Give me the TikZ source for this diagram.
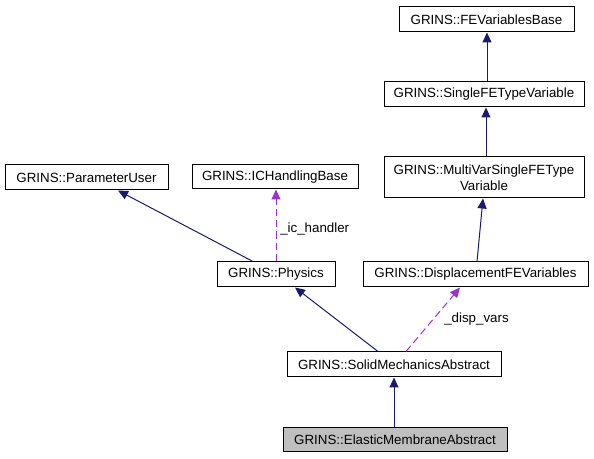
\documentclass[tikz,border=0pt]{standalone}
\usepackage{fontspec}
\setmainfont{Liberation Sans}
\usetikzlibrary{arrows.meta,calc}
\definecolor{navy}{HTML}{191970}
\definecolor{orchid}{HTML}{9A32CD}
\definecolor{boxgray}{HTML}{BFBFBF}
\begin{document}
\begin{tikzpicture}[x=0.75pt,y=-0.75pt,
  box/.style={draw=black,line width=0.75pt,fill=white,inner sep=0pt,
    font=\fontsize{10}{12}\selectfont,align=center},
  inh/.style={draw=navy,line width=0.75pt,-{Triangle[length=7.5pt,width=6.75pt]}},
  use/.style={draw=orchid,line width=0.75pt,dash pattern=on 5.5pt off 3pt,
    -{Triangle[length=7.5pt,width=6.75pt]}},
  lbl/.style={font=\fontsize{10}{12}\selectfont,inner sep=0pt,anchor=west}]
\useasboundingbox (0,0) rectangle (594,459);
\node[box,minimum width=131.25pt,minimum height=18.75pt] (fevb) at (486.5,19.5) {GRINS::FEVariablesBase};
\node[box,minimum width=150pt,minimum height=18.75pt] (sftv) at (484,94.5) {GRINS::SingleFETypeVariable};
\node[box,minimum width=150pt,minimum height=30.75pt] (mvs) at (484,177.5) {GRINS::MultiVarSingleFEType\\Variable};
\node[box,minimum width=168.75pt,minimum height=18.75pt] (dfev) at (475.5,274.5) {GRINS::DisplacementFEVariables};
\node[box,minimum width=124.5pt,minimum height=18pt] (ichb) at (275,177) {GRINS::ICHandlingBase};
\node[box,minimum width=122.25pt,minimum height=18.75pt] (pu) at (86.5,177.5) {GRINS::ParameterUser};
\node[box,minimum width=88.5pt,minimum height=18.75pt] (phys) at (276,274.5) {GRINS::Physics};
\node[box,minimum width=160.5pt,minimum height=18.75pt] (sma) at (394,364.5) {GRINS::SolidMechanicsAbstract};
\node[box,minimum width=168pt,minimum height=18pt,fill=boxgray] (ema) at (395,440) {GRINS::ElasticMembraneAbstract};
% connectors
\draw[inh] ($(phys.north)+(-23,0)$) -- ($(pu.south)+(31.5,0)$);
\draw[use] (phys.north) -- (phys.north |- ichb.south);
\draw[inh] ($(sma.north)+(-16,0)$) -- ($(phys.south)+(19,0)$);
\draw[use] ($(sma.north)+(12,0)$) -- ($(dfev.south)+(-15.5,0)$);
\draw[inh] (sma.south |- ema.north) -- (sma.south);
\draw[inh] ($(dfev.north)+(1.5,0)$) -- ($(mvs.south)+(-1,0)$);
\draw[inh] ($(mvs.north)+(2,0)$) -- ($(sftv.south)+(2,0)$);
\draw[inh] ($(sftv.north)+(3,0)$) -- ($(fevb.south)+(0.5,0)$);
% labels
\node[lbl] (lic) at (280,229) {\_ic\_handler};
\node[lbl] (ldisp) at (444,319) {\_disp\_vars};
\end{tikzpicture}
\end{document}
